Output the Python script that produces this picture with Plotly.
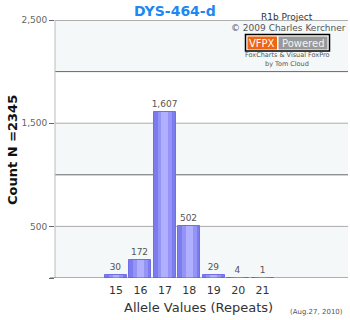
import plotly.graph_objects as go

alleles = [15, 16, 17, 18, 19, 20, 21]
counts = [30, 172, 1607, 502, 29, 4, 1]
ytick_vals = [0, 500, 1500, 2500]
ytick_text = ["", "500", "1,500", "2,500"]

FONT = "DejaVu Sans"
L, T, W, H = 55, 20, 293, 258

def px(x):
    return (x - L) / W

def py(y):
    return (T + H - y) / H

fig = go.Figure()
fig.add_trace(go.Bar(x=alleles, y=counts, width=0.9,
                     marker=dict(color="#7c7cee", line=dict(color="#7070e6", width=1)),
                     text=counts, texttemplate="%{y:,}", textposition="outside",
                     constraintext="none",
                     textfont=dict(size=9, color="#555", family=FONT),
                     cliponaxis=False, hoverinfo="skip"))
fig.add_trace(go.Bar(x=alleles, y=counts, width=0.6,
                     marker=dict(color="#9494f6", line=dict(width=0)), hoverinfo="skip"))
fig.add_trace(go.Bar(x=alleles, y=counts, width=0.28,
                     marker=dict(color="#b0b0ff", line=dict(width=0)), hoverinfo="skip"))

shapes = []
for lo, hi in [(0, 500), (1000, 1500), (2000, 2500)]:
    shapes.append(dict(type="rect", xref="paper", yref="y", x0=0, x1=1, y0=lo, y1=hi,
                       fillcolor="#f4f8f8", line=dict(width=0), layer="below"))
for v, c in [(500, "#aaaaaa"), (1000, "#666666"), (1500, "#aaaaaa"), (2000, "#666666"), (2500, "#666666")]:
    shapes.append(dict(type="line", xref="paper", yref="y", x0=0, x1=1, y0=v, y1=v,
                       line=dict(color=c, width=1), layer="below"))
shapes.append(dict(type="line", xref="paper", yref="y", x0=0, x1=0, y0=0, y1=2500,
                   line=dict(color="#bbbbbb", width=1)))
shapes.append(dict(type="line", xref="paper", yref="y", x0=px(50), x1=1, y0=0, y1=0,
                   line=dict(color="#666666", width=1)))
shapes.append(dict(type="rect", xref="paper", yref="paper", x0=px(245.5), x1=px(329.5),
                   y0=py(51), y1=py(34.5), fillcolor="white", line=dict(color="black", width=1.5)))
shapes.append(dict(type="rect", xref="paper", yref="paper", x0=px(247.5), x1=px(277),
                   y0=py(49.5), y1=py(36.5), fillcolor="#ee6611", line=dict(width=0)))
shapes.append(dict(type="rect", xref="paper", yref="paper", x0=px(278.5), x1=px(327.5),
                   y0=py(49.5), y1=py(36.5), fillcolor="#999999", line=dict(width=0)))

ann = []
def A(text, x, y, size, color="#333", bold=False, xanchor="center", angle=0):
    ann.append(dict(text=f"<b>{text}</b>" if bold else text, xref="paper", yref="paper",
                    x=px(x), y=py(y), xanchor=xanchor, yanchor="middle", showarrow=False,
                    textangle=angle, font=dict(family=FONT, size=size, color=color)))

A("DYS-464-d", 175, 11, 14, color="#1e88f0", bold=True)
A("Count N =2345", 12, 150, 13, color="#111", bold=True, angle=-90)
A("R1b Project", 287, 17, 9)
A("© 2009 Charles Kerchner", 288, 28, 9, color="#555")
A("VFPX", 262, 43, 10, color="white")
A("Powered", 303, 43, 10, color="#f4f4f4")
A("FoxCharts &amp; Visual FoxPro", 287, 55, 6.5, color="#555")
A("by Tom Cloud", 287, 64, 6.5, color="#555")
A("Allele Values (Repeats)", 198, 307, 13)
A("(Aug.27, 2010)", 316, 312, 7, color="#555")

fig.update_layout(
    width=350, height=320,
    margin=dict(l=L, r=350 - L - W, t=T, b=320 - T - H),
    paper_bgcolor="white", plot_bgcolor="white",
    barmode="overlay", showlegend=False, bargap=0,
    shapes=shapes, annotations=ann,
    xaxis=dict(range=[12.5, 24.5], tickvals=alleles, ticktext=[str(a) for a in alleles],
               showgrid=False, zeroline=False, showline=False, ticks="",
               ticklabelstandoff=4,
               tickfont=dict(family=FONT, size=11, color="#333"), fixedrange=True),
    yaxis=dict(range=[0, 2500], tickvals=ytick_vals, ticktext=ytick_text,
               showgrid=False, zeroline=False, showline=False,
               ticks="outside", ticklen=5, tickcolor="#666",
               tickfont=dict(family=FONT, size=9, color="#666"), fixedrange=True),
)

fig.write_html("out.html")
